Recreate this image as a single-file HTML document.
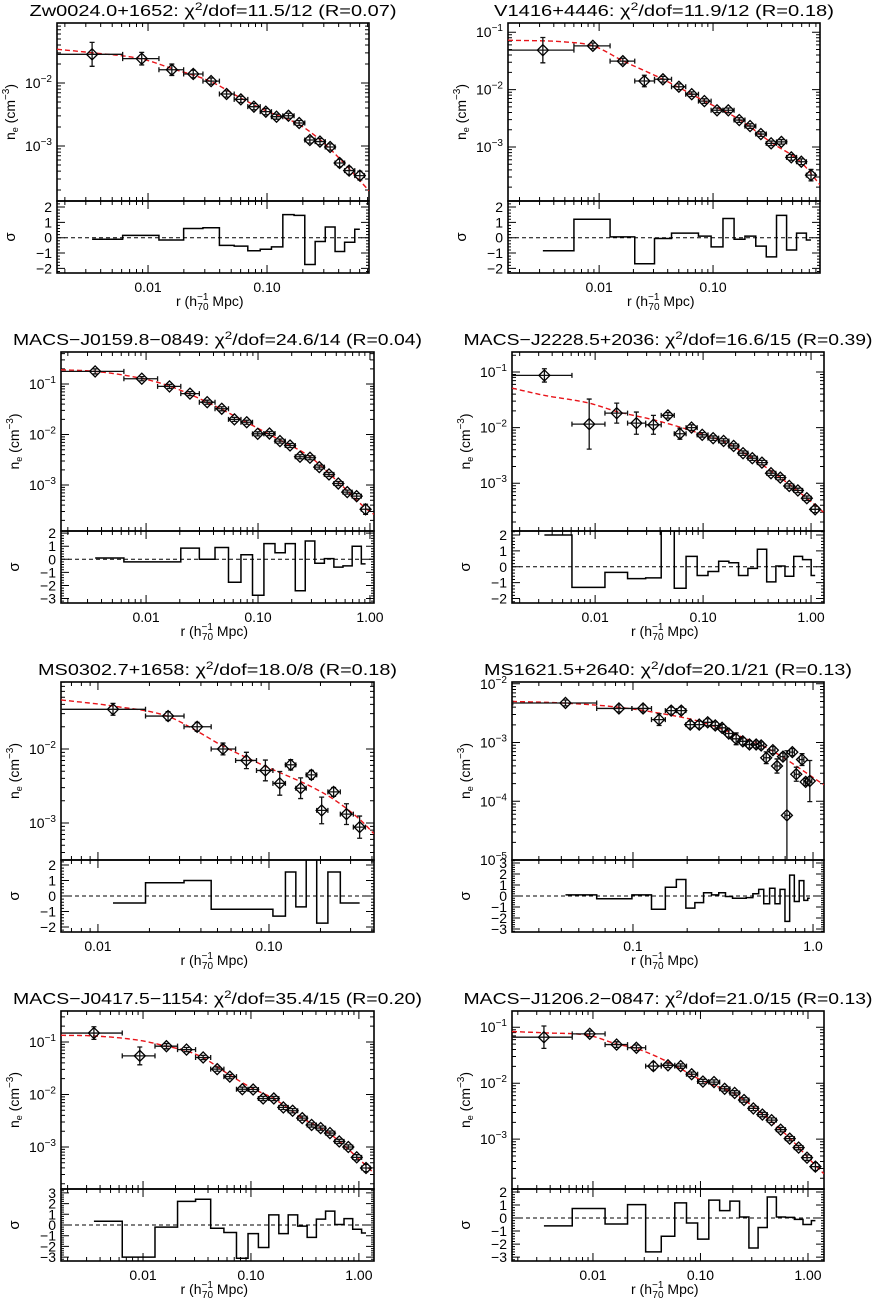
<!DOCTYPE html>
<html><head><meta charset="utf-8"><title>Density profiles</title>
<style>
html,body{margin:0;padding:0;background:#fff;}
svg{display:block;font-family:"Liberation Sans",Arial,sans-serif;}
</style></head>
<body>
<svg id="fig" width="873" height="1301" viewBox="0 0 873 1301"></svg>
<script>
// ---------- data (log10 units) ----------
const p1_log_r=[-2.47,-2.053,-1.80,-1.62,-1.47,-1.34,-1.22,-1.11,-1.01,-0.92,-0.82,-0.73,-0.64,-0.555,-0.47,-0.39,-0.31,-0.22];
const p1_log_ne=[-1.545,-1.614,-1.79,-1.857,-1.97,-2.175,-2.26,-2.376,-2.455,-2.535,-2.52,-2.635,-2.905,-2.93,-3.016,-3.27,-3.39,-3.47];
const p1_err=[0.19,0.1,0.09,0.06,0.05,0.05,0.05,0.05,0.05,0.04,0.04,0.04,0.05,0.05,0.05,0.06,0.06,0.07];
const p1_resid=[-0.1,0.15,-0.15,0.6,0.65,-0.5,-0.55,-0.85,-0.75,-0.6,1.5,1.45,-1.75,-0.25,0.7,-0.9,-0.3,0.55];
const p1_model_log_r=[-2.765,-2.47,-2.05,-1.8,-1.47,-1.22,-1.01,-0.73,-0.555,-0.39,-0.143];
const p1_model_log_ne=[-1.465,-1.52,-1.62,-1.77,-1.98,-2.24,-2.44,-2.66,-2.9,-3.2,-3.71];

const p2_log_r=[-2.494,-2.055,-1.792,-1.603,-1.44,-1.30,-1.187,-1.076,-0.965,-0.866,-0.77,-0.675,-0.58,-0.49,-0.40,-0.313,-0.225,-0.14];
const p2_log_ne=[-1.313,-1.238,-1.504,-1.85,-1.82,-1.95,-2.08,-2.20,-2.36,-2.36,-2.53,-2.635,-2.774,-2.936,-2.91,-3.18,-3.256,-3.49];
const p2_err=[0.22,0.05,0.05,0.1,0.05,0.05,0.04,0.04,0.04,0.04,0.04,0.04,0.04,0.04,0.04,0.05,0.05,0.1];
const p2_resid=[-0.85,1.2,0.05,-1.7,-0.05,0.3,0.3,0.1,-0.6,1.25,-0.1,0.1,-0.55,-1.25,1.45,-0.8,0.3,-0.15];
const p2_model_log_r=[-2.8,-2.3,-2.05,-1.79,-1.44,-1.076,-0.77,-0.49,-0.225,-0.061];
const p2_model_log_ne=[-1.14,-1.17,-1.24,-1.50,-1.82,-2.20,-2.52,-2.92,-3.27,-3.66];

const p3_log_r=[-2.455,-2.038,-1.791,-1.608,-1.454,-1.324,-1.211,-1.101,-1.003,-0.898,-0.804,-0.714,-0.625,-0.536,-0.453,-0.366,-0.283,-0.203,-0.119,-0.039];
const p3_log_ne=[-0.75,-0.895,-1.047,-1.19,-1.36,-1.49,-1.70,-1.757,-1.986,-1.98,-2.13,-2.217,-2.44,-2.46,-2.645,-2.79,-2.97,-3.14,-3.22,-3.48];
const p3_err=[0.05,0.04,0.04,0.04,0.04,0.04,0.04,0.04,0.04,0.04,0.04,0.04,0.04,0.04,0.04,0.04,0.04,0.04,0.05,0.1];
const p3_resid=[0.1,-0.2,-0.2,0.85,0,0.9,-1.75,0.35,-2.75,1.2,0.5,1.2,-2.4,1.4,-0.3,0.05,-0.6,-0.5,1.0,-0.35];
const p3_model_log_r=[-2.76,-2.455,-2.038,-1.791,-1.454,-1.101,-0.804,-0.536,-0.283,-0.039,0.036];
const p3_model_log_ne=[-0.718,-0.75,-0.89,-1.04,-1.36,-1.76,-2.11,-2.44,-2.94,-3.46,-3.58];

const p4_log_r=[-2.47,-2.055,-1.80,-1.618,-1.46,-1.326,-1.215,-1.107,-1.008,-0.907,-0.81,-0.717,-0.63,-0.544,-0.455,-0.371,-0.285,-0.202,-0.122,-0.039,0.038];
const p4_log_ne=[-1.061,-1.937,-1.74,-1.92,-1.95,-1.78,-2.11,-2.0,-2.13,-2.19,-2.24,-2.33,-2.46,-2.55,-2.63,-2.82,-2.90,-3.05,-3.13,-3.27,-3.47];
const p4_err=[0.12,0.45,0.18,0.2,0.17,0.05,0.1,0.05,0.04,0.04,0.04,0.04,0.04,0.04,0.04,0.04,0.04,0.04,0.04,0.04,0.06];
const p4_resid=[2.0,-1.3,-0.35,-0.75,-0.7,2.3,-1.35,0.65,-0.55,-0.3,0.35,0.25,-0.55,-0.1,1.1,-0.95,0.05,-0.6,0.65,0.45,-0.55];
const p4_model_log_r=[-2.77,-2.47,-2.055,-1.80,-1.46,-1.215,-1.008,-0.81,-0.544,-0.285,-0.039,0.12];
const p4_model_log_ne=[-1.29,-1.42,-1.56,-1.71,-1.86,-1.99,-2.12,-2.25,-2.55,-2.90,-3.27,-3.53];

const p5_log_r=[-1.912,-1.59,-1.42,-1.269,-1.132,-1.021,-0.937,-0.873,-0.815,-0.752,-0.692,-0.622,-0.547,-0.47];
const p5_log_ne=[-1.464,-1.555,-1.70,-2.0,-2.155,-2.29,-2.464,-2.214,-2.53,-2.35,-2.83,-2.58,-2.88,-3.056];
const p5_err=[0.08,0.06,0.06,0.08,0.11,0.14,0.16,0.07,0.14,0.06,0.18,0.06,0.14,0.15];
const p5_resid=[-0.45,0.85,1.0,-0.85,-0.85,-0.85,-1.3,1.55,-0.7,2.6,-1.75,1.55,-0.45,-0.45];
const p5_model_log_r=[-2.216,-1.912,-1.59,-1.42,-1.27,-1.015,-0.752,-0.622,-0.47,-0.386];
const p5_model_log_ne=[-1.337,-1.42,-1.56,-1.76,-1.96,-2.24,-2.51,-2.68,-2.95,-3.146];

const p6_log_r=[-1.375,-1.078,-0.944,-0.855,-0.788,-0.732,-0.682,-0.632,-0.585,-0.543,-0.505,-0.468,-0.427,-0.39,-0.353,-0.316,-0.288,-0.26,-0.223,-0.2,-0.167,-0.145,-0.115,-0.093,-0.061,-0.041,-0.018];
const p6_log_ne=[-2.327,-2.42,-2.42,-2.61,-2.457,-2.457,-2.695,-2.695,-2.656,-2.71,-2.75,-2.847,-2.937,-2.98,-3.034,-3.034,-3.05,-3.26,-3.13,-3.40,-3.24,-4.24,-3.164,-3.54,-3.29,-3.67,-3.656];
const p6_err=[0.05,0.06,0.06,0.1,0.06,0.06,0.06,0.06,0.06,0.06,0.06,0.06,0.1,0.06,0.06,0.06,0.06,0.1,0.06,0.12,0.06,1.1,0.06,0.12,0.1,0.06,0.35];
const p6_resid=[0.1,-0.25,0.1,-1.2,0.8,1.5,-1.1,-0.6,0.3,0.1,0.3,-0.05,-0.2,-0.2,-0.15,0.2,0.6,-0.7,0.7,-0.7,0.6,-2.3,1.9,-0.5,1.4,-0.4,-0.2];
const p6_model_log_r=[-1.672,-1.375,-1.078,-0.855,-0.632,-0.45,-0.24,0.061];
const p6_model_log_ne=[-2.30,-2.33,-2.40,-2.50,-2.64,-2.84,-3.12,-3.72];

const p7_log_r=[-2.455,-2.03,-1.783,-1.597,-1.443,-1.313,-1.196,-1.08,-0.98,-0.887,-0.788,-0.70,-0.614,-0.525,-0.438,-0.354,-0.268,-0.182,-0.098,-0.02,0.066];
const p7_log_ne=[-0.83,-1.265,-1.08,-1.145,-1.295,-1.517,-1.66,-1.90,-1.905,-2.076,-2.076,-2.246,-2.31,-2.45,-2.58,-2.64,-2.735,-2.894,-3.0,-3.197,-3.40];
const p7_err=[0.12,0.17,0.05,0.04,0.04,0.04,0.04,0.04,0.04,0.04,0.04,0.04,0.04,0.04,0.04,0.04,0.04,0.04,0.04,0.05,0.07];
const p7_resid=[0.35,-3.0,-0.2,2.2,2.4,-0.3,-0.7,-3.1,-0.8,-2.1,0.95,-0.8,0.95,-0.1,-1.15,0.55,1.3,0.05,0.6,-0.4,-0.75];
const p7_model_log_r=[-2.76,-2.455,-2.03,-1.783,-1.597,-1.443,-1.196,-0.98,-0.788,-0.525,-0.268,-0.02,0.14];
const p7_model_log_ne=[-0.873,-0.885,-0.97,-1.08,-1.17,-1.30,-1.63,-1.89,-2.08,-2.45,-2.75,-3.19,-3.50];

const p8_log_r=[-2.456,-2.03,-1.78,-1.596,-1.438,-1.302,-1.184,-1.082,-0.977,-0.874,-0.775,-0.682,-0.595,-0.508,-0.424,-0.338,-0.254,-0.17,-0.087,-0.009,0.069];
const p8_log_ne=[-1.178,-1.118,-1.31,-1.367,-1.694,-1.68,-1.694,-1.84,-1.97,-1.98,-2.10,-2.174,-2.30,-2.45,-2.56,-2.66,-2.83,-2.99,-3.15,-3.33,-3.49];
const p8_err=[0.2,0.05,0.05,0.05,0.07,0.04,0.04,0.04,0.04,0.04,0.04,0.04,0.04,0.04,0.04,0.04,0.04,0.04,0.04,0.05,0.07];
const p8_resid=[-0.6,0.73,-0.46,1.03,-2.6,-1.4,1.16,-0.38,-1.62,1.38,0.57,1.3,0.08,-2.3,-0.73,1.62,0.08,0.05,-0.1,-0.5,-0.2];
const p8_model_log_r=[-2.753,-2.456,-2.03,-1.78,-1.596,-1.302,-0.977,-0.682,-0.424,-0.17,0.069,0.149];
const p8_model_log_ne=[-1.077,-1.10,-1.15,-1.30,-1.38,-1.62,-1.96,-2.19,-2.55,-2.98,-3.47,-3.62];

const titles_name=["Zw0024.0+1652","V1416+4446","MACS\u2212J0159.8\u22120849","MACS\u2212J2228.5+2036","MS0302.7+1658","MS1621.5+2640","MACS\u2212J0417.5\u22121154","MACS\u2212J1206.2\u22120847"];
const titles_fit=["11.5/12 (R=0.07)","11.9/12 (R=0.18)","24.6/14 (R=0.04)","16.6/15 (R=0.39)","18.0/8 (R=0.18)","20.1/21 (R=0.13)","35.4/15 (R=0.20)","21.0/15 (R=0.13)"];

// ---------- layout ----------
const panels=[
 {x0:57,x1:369,yt:23,ym:201,yb:273,xr:[-2.765,-0.143],yr:[-3.873,-1.048],rr:[-2.3,2.39],xd:2,tw:367,r:p1_log_r,n:p1_log_ne,e:p1_err,s:p1_resid,mr:p1_model_log_r,mn:p1_model_log_ne},
 {x0:508,x1:820,yt:23,ym:201,yb:273,xr:[-2.80,-0.061],yr:[-3.94,-0.84],rr:[-2.3,2.39],xd:2,tw:340,r:p2_log_r,n:p2_log_ne,e:p2_err,s:p2_resid,mr:p2_model_log_r,mn:p2_model_log_ne},
 {x0:61,x1:374,yt:352,ym:531,yb:603,xr:[-2.76,0.036],yr:[-3.91,-0.366],rr:[-3.34,2.16],xd:2,tw:409,r:p3_log_r,n:p3_log_ne,e:p3_err,s:p3_resid,mr:p3_model_log_r,mn:p3_model_log_ne},
 {x0:512,x1:824,yt:352,ym:531,yb:603,xr:[-2.77,0.12],yr:[-3.86,-0.64],rr:[-2.28,2.25],xd:2,tw:409,r:p4_log_r,n:p4_log_ne,e:p4_err,s:p4_resid,mr:p4_model_log_r,mn:p4_model_log_ne},
 {x0:61,x1:374,yt:682,ym:860,yb:932,xr:[-2.216,-0.386],yr:[-3.5,-1.095],rr:[-2.32,2.32],xd:2,tw:359,r:p5_log_r,n:p5_log_ne,e:p5_err,s:p5_resid,mr:p5_model_log_r,mn:p5_model_log_ne},
 {x0:512,x1:824,yt:682,ym:860,yb:932,xr:[-1.672,0.061],yr:[-5.0,-1.97],rr:[-3.27,3.27],xd:1,tw:368,r:p6_log_r,n:p6_log_ne,e:p6_err,s:p6_resid,mr:p6_model_log_r,mn:p6_model_log_ne},
 {x0:61,x1:374,yt:1011,ym:1189,yb:1261,xr:[-2.76,0.14],yr:[-3.8,-0.41],rr:[-3.36,3.36],xd:2,tw:409,r:p7_log_r,n:p7_log_ne,e:p7_err,s:p7_resid,mr:p7_model_log_r,mn:p7_model_log_ne},
 {x0:512,x1:824,yt:1011,ym:1189,yb:1261,xr:[-2.753,0.149],yr:[-3.89,-0.71],rr:[-3.3,2.23],xd:2,tw:409,r:p8_log_r,n:p8_log_ne,e:p8_err,s:p8_resid,mr:p8_model_log_r,mn:p8_model_log_ne}
];

const NS="http://www.w3.org/2000/svg";
const svg=document.getElementById('fig');
function mk(parent,tag,attrs){const el=document.createElementNS(NS,tag);for(const k in attrs)el.setAttribute(k,attrs[k]);parent.appendChild(el);return el;}
function f(v){return v.toFixed(2);}

function monotone(xs,ys){
  const n=xs.length,d=[],m=[];
  for(let i=0;i<n-1;i++)d.push((ys[i+1]-ys[i])/(xs[i+1]-xs[i]));
  m[0]=d[0];m[n-1]=d[n-2];
  for(let i=1;i<n-1;i++){m[i]=(d[i-1]*d[i]<=0)?0:(d[i-1]+d[i])/2;}
  return function(x){
    let i=0;while(i<n-2&&x>xs[i+1])i++;
    const h=xs[i+1]-xs[i],t=Math.max(0,Math.min(1,(x-xs[i])/h));
    const h00=2*t*t*t-3*t*t+1,h10=t*t*t-2*t*t+t,h01=-2*t*t*t+3*t*t,h11=t*t*t-t*t;
    return h00*ys[i]+h10*h*m[i]+h01*ys[i+1]+h11*h*m[i+1];
  };
}

panels.forEach((c,pi)=>{
  const g=mk(svg,'g',{});
  
  
  const X=lr=>c.x0+(lr-c.xr[0])/(c.xr[1]-c.xr[0])*(c.x1-c.x0);
  const Y=ln=>c.yt+(c.yr[1]-ln)/(c.yr[1]-c.yr[0])*(c.ym-c.yt);
  const R=s=>c.ym+(c.rr[1]-s)/(c.rr[1]-c.rr[0])*(c.yb-c.ym);
  const cx=(c.x0+c.x1)/2;

  const defs=mk(g,'defs',{});
  const cp1=mk(defs,'clipPath',{id:'cm'+pi});mk(cp1,'rect',{x:c.x0,y:c.yt,width:c.x1-c.x0,height:c.ym-c.yt});
  const cp2=mk(defs,'clipPath',{id:'cr'+pi});mk(cp2,'rect',{x:c.x0,y:c.ym,width:c.x1-c.x0,height:c.yb-c.ym});

  const t=mk(g,'text',{x:cx,y:c.yt-7,'text-anchor':'middle','font-size':16,textLength:c.tw,lengthAdjust:'spacingAndGlyphs'});
  
  
  t.textContent=titles_name[pi]+': \u03c7';
  const ts=mk(t,'tspan',{dy:-6,'font-size':11});ts.textContent='2';
  const ts2=mk(t,'tspan',{dy:6});ts2.textContent='/dof='+titles_fit[pi];

  const tk=mk(g,'path',{fill:'none',stroke:'#000','stroke-width':1});
  
  
  let d='';
  for(let dec=Math.floor(c.xr[0]);dec<=Math.ceil(c.xr[1]);dec++){
    for(let k=1;k<10;k++){
      const lr=dec+Math.log10(k);if(lr<c.xr[0]||lr>c.xr[1])continue;
      const x=X(lr).toFixed(2);const L=k===1?8:4;
      d+=`M${x} ${c.yt}v${L}M${x} ${c.ym}v${-L}M${x} ${c.ym}v${L}M${x} ${c.yb}v${-L}`;
    }
  }
  for(let dec=Math.floor(c.yr[0]);dec<=Math.ceil(c.yr[1]);dec++){
    for(let k=1;k<10;k++){
      const ln=dec+Math.log10(k);if(ln<c.yr[0]||ln>c.yr[1])continue;
      const y=Y(ln).toFixed(2);const L=k===1?8:4;
      d+=`M${c.x0} ${y}h${L}M${c.x1} ${y}h${-L}`;
    }
  }
  for(let s=Math.ceil(c.rr[0]*5)/5;s<=c.rr[1];s+=0.2){
    const y=R(s).toFixed(2);const isInt=Math.abs(s-Math.round(s))<1e-6;const L=isInt?8:3;
    d+=`M${c.x0} ${y}h${L}M${c.x1} ${y}h${-L}`;
  }
  tk.setAttribute('d',d);

  const b1=mk(g,'rect',{x:c.x0,y:c.yt,width:c.x1-c.x0,height:c.ym-c.yt,fill:'none',stroke:'#000','stroke-width':1.6});
  
  
  const b2=mk(g,'rect',{x:c.x0,y:c.ym,width:c.x1-c.x0,height:c.yb-c.ym,fill:'none',stroke:'#000','stroke-width':1.6});
  
  

  for(let dec=Math.ceil(c.yr[0]-0.02);dec<=Math.floor(c.yr[1]+0.03);dec++){
    const tl=mk(g,'text',{x:c.x0-5,y:Y(dec)+5,'text-anchor':'end','font-size':14});
    
    
    tl.textContent='10';
    const sp=mk(tl,'tspan',{dy:-6,'font-size':10});sp.textContent='\u2212'+(-dec);
  }
  for(let s=Math.ceil(c.rr[0]);s<=Math.floor(c.rr[1]);s++){
    const tl=mk(g,'text',{x:c.x0-5,y:R(s)+5,'text-anchor':'end','font-size':14});
    
    
    tl.textContent=s<0?'\u2212'+(-s):String(s);
  }
  for(let dec=Math.ceil(c.xr[0]);dec<=Math.floor(c.xr[1]+0.02);dec++){
    const tl=mk(g,'text',{x:X(dec),y:c.yb+19,'text-anchor':'middle','font-size':14});
    
    
    tl.textContent=Math.pow(10,dec).toFixed(c.xd);
  }
  const ya=mk(g,'text',{transform:`translate(${c.x0-42},${(c.yt+c.ym)/2}) rotate(-90)`,'text-anchor':'middle','font-size':14});
  
  
  ya.textContent='n';
  const ya1=mk(ya,'tspan',{dy:3,'font-size':9});ya1.textContent='e';
  const ya2=mk(ya,'tspan',{dy:-3});ya2.textContent=' (cm';
  const ya3=mk(ya,'tspan',{dy:-6,'font-size':10});ya3.textContent='\u22123';
  const ya4=mk(ya,'tspan',{dy:6});ya4.textContent=')';
  const sa=mk(g,'text',{transform:`translate(${c.x0-42},${(c.ym+c.yb)/2}) rotate(-90)`,'text-anchor':'middle','font-size':15});
  
  
  sa.textContent='\u03c3';
  const xa=mk(g,'text',{x:cx-37,y:c.yb+33,'font-size':14});
  
  
  xa.textContent='r  (h';
  const xa1=mk(xa,'tspan',{dy:-6,'font-size':10});xa1.textContent='\u22121';
  const xa2=mk(xa,'tspan',{dx:-11,dy:10,'font-size':10});xa2.textContent='70';
  const xa3=mk(xa,'tspan',{dy:-4});xa3.textContent=' Mpc)';

  const fn=monotone(c.mr,c.mn);
  let md='';
  for(let i=0;i<=150;i++){const lr=c.xr[0]+(c.xr[1]-c.xr[0])*i/150;md+=(i?'L':'M')+f(X(lr))+' '+f(Y(fn(lr)));}
  const mc=mk(g,'path',{d:md,fill:'none',stroke:'#e8141a','stroke-width':1.4,'stroke-dasharray':'5 3','clip-path':`url(#cm${pi})`});
  
  

  const lin=c.r.map(v=>Math.pow(10,v));
  const mids=[];for(let i=0;i<lin.length-1;i++)mids.push((lin[i]+lin[i+1])/2);

  const pg=mk(g,'g',{'clip-path':`url(#cm${pi})`});
  
  
  c.r.forEach((lr,i)=>{
    const hr=i<mids.length?mids[i]-lin[i]:lin[i]-mids[i-1];
    const hl=i>0?lin[i]-mids[i-1]:hr;
    const lo=lin[i]-hl>0?Math.log10(lin[i]-hl):c.xr[0]-1;
    const hi=Math.log10(lin[i]+hr);
    const px=X(lr),py=Y(c.n[i]);
    const xl=X(lo),xh=X(hi),yu=Y(c.n[i]+c.e[i]),yd=Y(c.n[i]-c.e[i]);
    const eb=mk(pg,'path',{d:`M${f(xl)} ${f(py)}H${f(xh)}M${f(xl)} ${f(py-2.5)}v5M${f(xh)} ${f(py-2.5)}v5M${f(px)} ${f(yu)}V${f(yd)}M${f(px-2.5)} ${f(yu)}h5M${f(px-2.5)} ${f(yd)}h5`,fill:'none',stroke:'#111','stroke-width':1.3});
    
    
    const dm=mk(pg,'path',{d:`M${f(px)} ${f(py-5.5)}L${f(px+5.5)} ${f(py)}L${f(px)} ${f(py+5.5)}L${f(px-5.5)} ${f(py)}Z`,fill:'none',stroke:'#000','stroke-width':1.3});
    
    
  });

  const zl=mk(g,'line',{x1:c.x0,x2:c.x1,y1:R(0),y2:R(0),stroke:'#000','stroke-width':1,'stroke-dasharray':'4 3'});
  
  
  let rd=`M${f(X(c.r[0]))} ${f(R(c.s[0]))}`;
  for(let i=0;i<mids.length;i++){const mx=X(Math.log10(mids[i]));rd+=`H${f(mx)}V${f(R(c.s[i+1]))}`;}
  rd+=`H${f(X(c.r[c.r.length-1]))}`;
  const rs=mk(g,'path',{d:rd,fill:'none',stroke:'#000','stroke-width':1.5,'clip-path':`url(#cr${pi})`});
  
  
});
</script>
</body></html>
